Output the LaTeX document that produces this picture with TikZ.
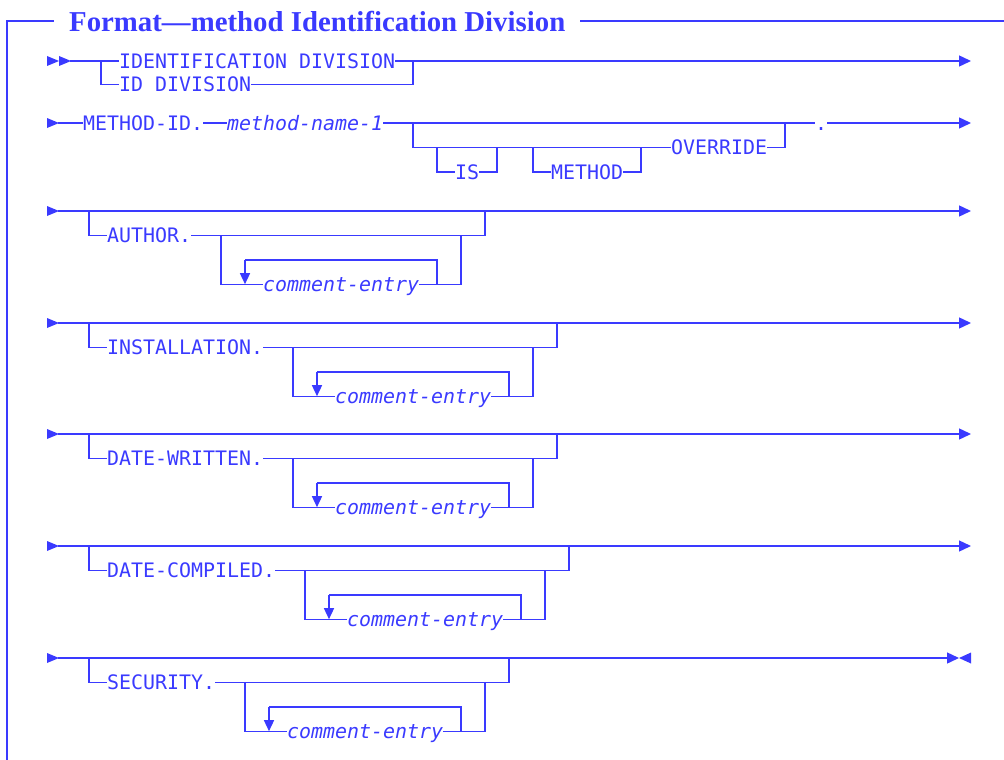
\documentclass[tikz,border=0pt]{standalone}
\usepackage{fontspec}
\usepackage{graphicx}
\setmonofont{DejaVu Sans Mono}
\newfontfamily\titlefont[Ligatures=TeX]{Liberation Serif}
\usetikzlibrary{arrows.meta}
\definecolor{ink}{RGB}{58,58,255}
\tikzset{
  ln/.style={draw=ink, line width=1.4pt},
  arr/.style={ln, -{Triangle[length=12pt,width=11pt]}},
  looparr/.style={ln, -{Triangle[length=11pt,width=10pt]}},
  kw/.style={font=\fontsize{19.93}{22}\selectfont\ttfamily, text=ink, inner sep=0pt, text height=16pt, text depth=1.4pt, anchor=west},
  var/.style={kw, font=\fontsize{19.93}{22}\selectfont\ttfamily\itshape},
  frame/.style={draw=ink, line width=1.8pt},
  tip/.style={fill=ink},
}
\newcommand\startarrow[1]{\fill[tip] (47,#1-5) -- (59,#1) -- (47,#1+5) -- cycle;}
\newcommand\commentrow[4]{%
  \pgfmathsetmacro\rYa{#2}%
  \pgfmathsetmacro\rYb{#2+24.4}%
  \pgfmathsetmacro\rYc{#2+48.8}%
  \pgfmathsetmacro\rYd{#2+73.2}%
  \pgfmathsetmacro\rXin{53+12*(7+#4)}%
  \pgfmathsetmacro\rXar{53+12*(9+#4)}%
  \pgfmathsetmacro\rXce{47+12*(11+#4)}%
  \pgfmathsetmacro\rXlr{53+12*(25+#4)}%
  \pgfmathsetmacro\rXir{53+12*(27+#4)}%
  \pgfmathsetmacro\rXor{53+12*(29+#4)}%
  \startarrow{\rYa}
  \coordinate (#1-s) at (58,\rYa);
  \coordinate (#1-o1) at (89,\rYa);
  \coordinate (#1-o2) at (89,\rYb);
  \coordinate (#1-o3) at (\rXor,\rYb);
  \coordinate (#1-o4) at (\rXor,\rYa);
  \node[kw] (#1-kw) at (107,\rYb) {#3};
  \coordinate (#1-i1) at (\rXin,\rYb);
  \coordinate (#1-i2) at (\rXin,\rYd);
  \coordinate (#1-a1) at (\rXar,\rYc);
  \coordinate (#1-a2) at (\rXar,\rYd);
  \node[var] (#1-ce) at (\rXce,\rYd) {comment-entry};
  \coordinate (#1-l1) at (\rXlr,\rYd);
  \coordinate (#1-l2) at (\rXlr,\rYc);
  \coordinate (#1-r1) at (\rXir,\rYd);
  \coordinate (#1-r2) at (\rXir,\rYb);
  \draw[ln] (#1-o1) -- (#1-o2) -- (#1-kw.west);
  \draw[ln] (#1-kw.east) -- (#1-o3) -- (#1-o4);
  \draw[ln] (#1-i1) -- (#1-i2) -- (#1-ce.west);
  \draw[ln] (#1-ce.east) -- (#1-r1) -- (#1-r2);
  \draw[ln] (#1-l1) -- (#1-l2) -- (#1-a1);
  \draw[looparr] (#1-a1) -- (#1-a2);
}
\begin{document}
\begin{tikzpicture}[x=1pt,y=-1pt]
\useasboundingbox (0,0) rectangle (1004,760);
% frame and title
\node[anchor=base west, text=ink, inner sep=0pt] (title) at (69,32)
  {\resizebox{496pt}{!}{\titlefont\bfseries Format—method Identification Division}};
\coordinate (f1) at (7,760);
\coordinate (f2) at (7,21);
\coordinate (f3) at (54,21);
\coordinate (f4) at (580,21);
\coordinate (f5) at (1004,21);
\draw[frame] (f1) -- (f2) -- (f3);
\draw[frame] (f4) -- (f5);
% row 1
\startarrow{61}
\fill[tip] (59,61-5) -- (71,61) -- (59,61+5) -- cycle;
\coordinate (r1-s) at (70,61);
\coordinate (r1-e) at (971,61);
\coordinate (r1-j1) at (101,61);
\coordinate (r1-j1b) at (101,84.5);
\coordinate (r1-j2) at (413,61);
\coordinate (r1-j2b) at (413,84.5);
\node[kw] (r1-id1) at (119,61) {IDENTIFICATION DIVISION};
\node[kw] (r1-id2) at (119,84.5) {ID DIVISION};
\draw[ln] (r1-s) -- (r1-id1.west);
\draw[arr] (r1-id1.east) -- (r1-e);
\draw[ln] (r1-j1) -- (r1-j1b) -- (r1-id2.west);
\draw[ln] (r1-id2.east) -- (r1-j2b) -- (r1-j2);
% row 2
\startarrow{123}
\coordinate (r2-s) at (58,123);
\coordinate (r2-e) at (971,123);
\node[kw] (r2-mid) at (83,123) {METHOD-ID.};
\node[var] (r2-mn) at (227,123) {method-name-1};
\node[kw] (r2-dot) at (815,123) {.};
\coordinate (r2-a) at (413,123);
\coordinate (r2-b) at (413,147.5);
\coordinate (r2-is1) at (437,147.5);
\coordinate (r2-is2) at (437,172);
\coordinate (r2-is3) at (497,172);
\coordinate (r2-is4) at (497,147.5);
\coordinate (r2-me1) at (533,147.5);
\coordinate (r2-me2) at (533,172);
\coordinate (r2-me3) at (641,172);
\coordinate (r2-me4) at (641,147.5);
\coordinate (r2-ov1) at (785,147.5);
\coordinate (r2-ov2) at (785,123);
\node[kw] (r2-is) at (455,172) {IS};
\node[kw] (r2-me) at (551,172) {METHOD};
\node[kw] (r2-ov) at (671,147.5) {OVERRIDE};
\draw[ln] (r2-s) -- (r2-mid.west);
\draw[ln] (r2-mid.east) -- (r2-mn.west);
\draw[ln] (r2-mn.east) -- (r2-dot.west);
\draw[arr] (r2-dot.east) -- (r2-e);
\draw[ln] (r2-a) -- (r2-b) -- (r2-ov.west);
\draw[ln] (r2-ov.east) -- (r2-ov1) -- (r2-ov2);
\draw[ln] (r2-is1) -- (r2-is2) -- (r2-is.west);
\draw[ln] (r2-is.east) -- (r2-is3) -- (r2-is4);
\draw[ln] (r2-me1) -- (r2-me2) -- (r2-me.west);
\draw[ln] (r2-me.east) -- (r2-me3) -- (r2-me4);
% rows 3-7
\commentrow{r3}{211}{AUTHOR.}{7}
\coordinate (r3-e) at (971,211);
\draw[arr] (r3-s) -- (r3-e);
\commentrow{r4}{323}{INSTALLATION.}{13}
\coordinate (r4-e) at (971,323);
\draw[arr] (r4-s) -- (r4-e);
\commentrow{r5}{434}{DATE-WRITTEN.}{13}
\coordinate (r5-e) at (971,434);
\draw[arr] (r5-s) -- (r5-e);
\commentrow{r6}{546}{DATE-COMPILED.}{14}
\coordinate (r6-e) at (971,546);
\draw[arr] (r6-s) -- (r6-e);
\commentrow{r7}{658}{SECURITY.}{9}
\coordinate (r7-e) at (959,658);
\draw[arr] (r7-s) -- (r7-e);
\fill[tip] (971,658-5.5) -- (959,658) -- (971,658+5.5) -- cycle;
\end{tikzpicture}
\end{document}
